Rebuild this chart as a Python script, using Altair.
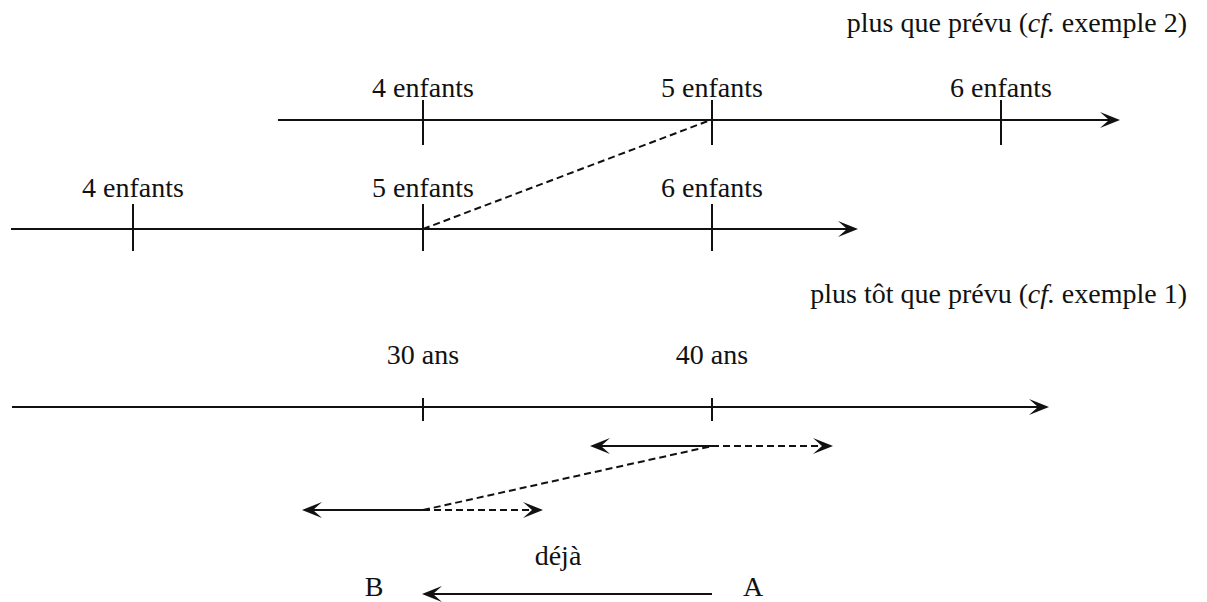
import altair as alt
import pandas as pd

# ---- diagram content (coordinates are in the reference picture's units) ----
# upper pair of timelines: "plus que prévu"
top_ticks = [423, 712, 1001]
top_labels = ["4 enfants", "5 enfants", "6 enfants"]
mid_ticks = [133, 423, 712]
mid_labels = ["4 enfants", "5 enfants", "6 enfants"]
# lower timeline: "plus tôt que prévu"
age_ticks = [423, 712]
age_labels = ["30 ans", "40 ans"]

# timelines: start x, end x (arrow tip), y
line_start = [278, 11, 12]
line_end = [1120, 858, 1049]
line_y = [120, 229, 407]
tick_top = [100, 204, 398]
tick_bottom = [145, 251, 421]
label_base = [97, 197, 364]

# solid helper segments (x, y, x2, y2)
solid_extra = [
    (712, 446, 596, 446),
    (423, 510, 308, 510),
    (712, 594, 428, 594),
]
# dashed segments (x, y, x2, y2)
dashed = [
    (423, 229, 708, 121),
    (712, 446, 826, 446),
    (423, 510, 536, 510),
    (423, 510, 712, 446),
]
# arrow tips
tips_right = [(1120, 120), (858, 229), (1049, 407), (833, 446), (543, 510)]
tips_left = [(590, 446), (302, 510), (422, 594)]

# texts
titles_regular = [
    ("plus que prévu (", 1028, 32),
    ("exemple 2)", 1187, 32),
    ("plus tôt que prévu (", 1028, 303),
    ("exemple 1)", 1187, 303),
]
titles_italic = [("cf.", 1055, 32), ("cf.", 1055, 303)]
free_texts = [("déjà", 558, 565), ("B", 374, 596), ("A", 753, 596)]

# ---- build tables ----
solid_rows = []
for x0, x1, y in zip(line_start, line_end, line_y):
    solid_rows.append({"x": x0, "y": y, "x2": x1 - 6, "y2": y})
for ticks, t0, t1 in zip([top_ticks, mid_ticks, age_ticks], tick_top, tick_bottom):
    for t in ticks:
        solid_rows.append({"x": t, "y": t0, "x2": t, "y2": t1})
for x0, y0, x1, y1 in solid_extra:
    solid_rows.append({"x": x0, "y": y0, "x2": x1, "y2": y1})
solid_df = pd.DataFrame(solid_rows)
dashed_df = pd.DataFrame([{"x": a, "y": b, "x2": c, "y2": d} for a, b, c, d in dashed])
right_df = pd.DataFrame([{"x": a, "y": b} for a, b in tips_right])
left_df = pd.DataFrame([{"x": a, "y": b} for a, b in tips_left])

label_rows = []
for ticks, labels, yb in zip([top_ticks, mid_ticks, age_ticks],
                             [top_labels, mid_labels, age_labels], label_base):
    for t, lab in zip(ticks, labels):
        label_rows.append({"x": t, "y": yb, "text": lab})
for txt, x, y in free_texts:
    label_rows.append({"x": x, "y": y, "text": txt})
label_df = pd.DataFrame(label_rows)
treg_df = pd.DataFrame([{"text": t, "x": x, "y": y} for t, x, y in titles_regular])
tit_df = pd.DataFrame([{"text": t, "x": x, "y": y} for t, x, y in titles_italic])

X = alt.X("x:Q", scale=alt.Scale(domain=[8, 1199], nice=False, zero=False), axis=None)
Y = alt.Y("y:Q", scale=alt.Scale(domain=[8, 602], nice=False, zero=False, reverse=True), axis=None)

INK = "#111111"
FONT = "Liberation Serif"

solid = alt.Chart(solid_df).mark_rule(color=INK, strokeWidth=2, strokeCap="butt").encode(
    x=X, y=Y, x2="x2:Q", y2="y2:Q")
dash = alt.Chart(dashed_df).mark_rule(color=INK, strokeWidth=2, strokeDash=[7, 4],
                                      strokeCap="butt").encode(
    x=X, y=Y, x2="x2:Q", y2="y2:Q")

RIGHT_HEAD = "M0,0 L-2,-0.8 L-1.1,0 L-2,0.8 Z"
LEFT_HEAD = "M0,0 L2,-0.8 L1.1,0 L2,0.8 Z"
heads_r = alt.Chart(right_df).mark_point(shape=RIGHT_HEAD, filled=True, size=400,
                                         color=INK, opacity=1, strokeWidth=0).encode(x=X, y=Y)
heads_l = alt.Chart(left_df).mark_point(shape=LEFT_HEAD, filled=True, size=400,
                                        color=INK, opacity=1, strokeWidth=0).encode(x=X, y=Y)

labels = alt.Chart(label_df).mark_text(font=FONT, fontSize=28, color=INK, align="center",
                                       baseline="alphabetic").encode(x=X, y=Y, text="text:N")
treg = alt.Chart(treg_df).mark_text(font=FONT, fontSize=28, color=INK, align="right",
                                    baseline="alphabetic").encode(x=X, y=Y, text="text:N")
tit = alt.Chart(tit_df).mark_text(font=FONT, fontSize=28, fontStyle="italic", color=INK,
                                  align="right", baseline="alphabetic").encode(x=X, y=Y, text="text:N")

chart = alt.layer(solid, dash, heads_r, heads_l, labels, treg, tit).properties(
    width=1191, height=594, padding=0, autosize=alt.AutoSizeParams(type="none")
).configure_view(stroke=None)

chart.save("out.html", embed_options={"renderer": "svg", "actions": False})
